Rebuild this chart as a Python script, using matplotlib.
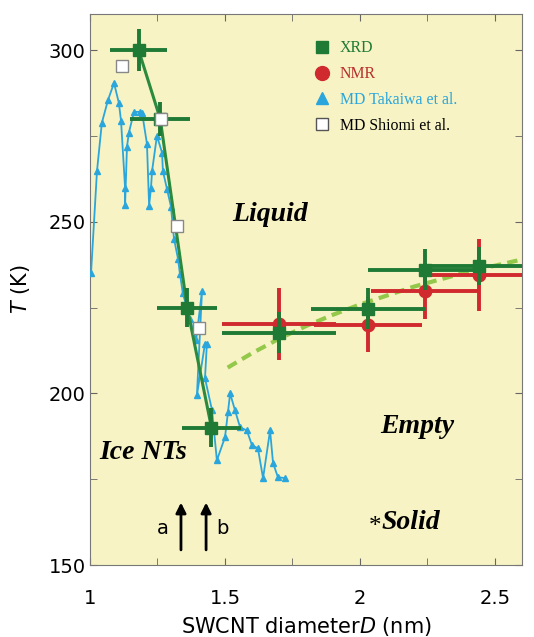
import matplotlib.pyplot as plt
import numpy as np
from matplotlib.lines import Line2D
from matplotlib.ticker import MultipleLocator

# XRD (green squares)
xrd_d = [1.18, 1.26, 1.36, 1.45, 1.70, 2.03, 2.24, 2.44]
xrd_t = [300, 280, 225, 190, 217.7, 224.7, 236, 237]
xrd_dd = [0.105, 0.11, 0.11, 0.11, 0.21, 0.21, 0.21, 0.21]
xrd_dt = [6, 5, 5.6, 5.6, 6, 6, 6, 5.5]

# NMR (red circles)
nmr_d = [1.70, 2.03, 2.24, 2.44]
nmr_t = [220.2, 220, 229.7, 234.5]
nmr_dd = [0.21, 0.2, 0.2, 0.2]
nmr_dt = [10.5, 8, 8, 10.5]

# MD Takaiwa et al. (blue triangles)
tak_d = [1.004, 1.026, 1.044, 1.067, 1.089, 1.107, 1.115, 1.130, 1.130, 1.137,
         1.144, 1.163, 1.185, 1.193, 1.211, 1.219, 1.226, 1.230, 1.248, 1.267,
         1.270, 1.285, 1.300, 1.311, 1.326, 1.333, 1.344, 1.370, 1.393, 1.415,
         1.396, 1.426, 1.433, 1.426, 1.452, 1.470, 1.500, 1.511, 1.519, 1.537,
         1.556, 1.581, 1.600, 1.622, 1.641, 1.667, 1.678, 1.696, 1.722]
tak_t = [235.2, 264.8, 278.8, 285.5, 290.4, 284.6, 279.4, 259.9, 254.9, 271.8,
         275.9, 282.0, 282.0, 281.7, 272.7, 254.7, 259.9, 264.8, 275.0, 270.1,
         264.8, 259.6, 254.4, 245.1, 239.2, 234.9, 229.1, 221.8, 215.4, 229.9,
         199.4, 214.5, 214.5, 204.4, 195.1, 180.5, 187.2, 194.5, 200.0, 195.1,
         190.1, 189.2, 184.9, 184.0, 175.3, 189.2, 179.7, 175.6, 175.3]

# MD Shiomi et al. (open squares)
shi_d = [1.12, 1.263, 1.322, 1.404]
shi_t = [295.3, 280, 248.8, 219]

# dashed fit curve
fit_d = [1.51, 1.6, 1.7, 1.8, 1.9, 2.0, 2.2, 2.4, 2.6]
fit_t = [207.5, 211.7, 215.9, 219.6, 222.9, 225.9, 231.1, 235.4, 239.0]

green = '#1f7a35'
red = '#d02a2e'
blue = '#2aa6dc'
lightgreen = '#94c84a'

fig = plt.figure(figsize=(5.34, 6.37), dpi=100)
ax = fig.add_axes([0.1685, 0.113, 0.809, 0.865])
ax.set_facecolor('#f7f3c4')

ax.plot(fit_d, fit_t, '--', color=lightgreen, lw=3, dashes=(2.5, 1.5), zorder=2)

ax.plot(tak_d, tak_t, '-^', color=blue, lw=1.3, ms=5, zorder=3)

# green line through the low-D XRD points
ax.plot(xrd_d[:4], xrd_t[:4], '-', color='#2b8a3e', lw=2.2, zorder=4)

ax.errorbar(nmr_d, nmr_t, xerr=nmr_dd, yerr=nmr_dt, fmt='o', color=red,
            ms=9, elinewidth=2.8, capsize=0, zorder=5)
ax.errorbar(xrd_d, xrd_t, xerr=xrd_dd, yerr=xrd_dt, fmt='s', color=green,
            ms=8, elinewidth=2.8, capsize=0, zorder=6)

ax.plot(shi_d, shi_t, 's', mfc='white', mec='#888888', mew=1, ms=8, zorder=7)

# arrows a and b
for xa in [1.337, 1.43]:
    ax.annotate('', xy=(xa, 169), xytext=(xa, 153.6),
                arrowprops=dict(arrowstyle='-|>', color='black', lw=2,
                                mutation_scale=15))
ax.text(1.27, 160.5, 'a', fontsize=14, ha='center', va='center')
ax.text(1.49, 160.5, 'b', fontsize=14, ha='center', va='center')

serif = 'Liberation Serif'
lab = dict(family=serif, style='italic', weight='bold', fontsize=20,
           va='center')
ax.text(1.667, 252, 'Liquid', ha='center', **lab)
ax.text(2.211, 190.3, 'Empty', ha='center', **lab)
ax.text(1.196, 182.9, 'Ice NTs', ha='center', **lab)
ax.text(2.078, 162.3, 'Solid', ha='left', **lab)
ax.text(2.078, 161.0, '*', ha='right', va='center', family=serif,
        fontsize=18)

handles = [
    Line2D([], [], marker='s', ls='', color=green, ms=9),
    Line2D([], [], marker='o', ls='', color=red, ms=10),
    Line2D([], [], marker='^', ls='', color=blue, ms=9),
    Line2D([], [], marker='s', ls='', mfc='white', mec='#555555', ms=9),
]
labels = ['XRD', 'NMR', 'MD Takaiwa et al.', 'MD Shiomi et al.']
leg = ax.legend(handles, labels, loc='upper left', bbox_to_anchor=(0.486, 0.978),
                frameon=False, handlelength=1, handletextpad=0.6,
                labelspacing=0.62, prop={'family': serif, 'size': 11.4})
for txt, c in zip(leg.get_texts(), [green, '#b8312f', blue, 'black']):
    txt.set_color(c)

ax.set_xlim(1, 2.6)
ax.set_ylim(150, 310.5)
ax.xaxis.set_major_locator(MultipleLocator(0.5))
ax.xaxis.set_minor_locator(MultipleLocator(0.25))
ax.yaxis.set_major_locator(MultipleLocator(50))
ax.yaxis.set_minor_locator(MultipleLocator(25))
ax.set_xticks([1, 1.5, 2, 2.5], ['1', '1.5', '2', '2.5'])
ax.tick_params(which='both', direction='in', top=True, right=True,
               color='#666666', labelsize=14, length=5)
ax.tick_params(axis='x', pad=17)
ax.tick_params(axis='y', pad=3)
for s in ax.spines.values():
    s.set_color('#777777')

ax.set_xlabel('SWCNT diameter$\\it{D}$ (nm)', fontsize=15, labelpad=5)
ax.set_ylabel('$\\it{T}$ (K)', fontsize=15, labelpad=12)

fig.savefig('out.png', dpi=100)
